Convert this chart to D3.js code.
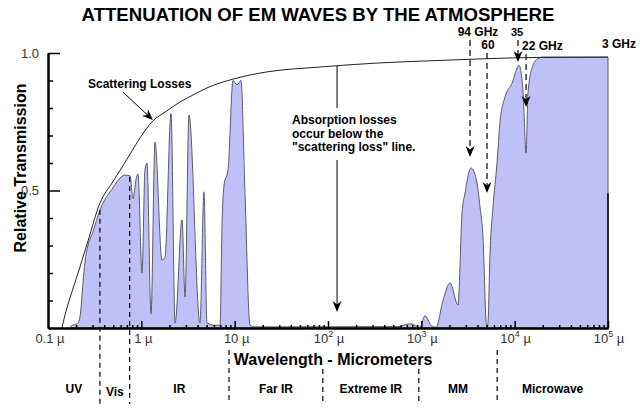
<!DOCTYPE html>
<html>
<head>
<meta charset="utf-8">
<script src="https://cdn.jsdelivr.net/npm/d3@7"></script>
<style>
  html, body { margin: 0; padding: 0; background: #ffffff; }
  svg { display: block; }
</style>
</head>
<body>
<svg id="chart"></svg>
<script>
const WIDTH = 640;
const HEIGHT = 409;
const FONT = '"Liberation Sans", Arial, Helvetica, sans-serif';

// Scattering loss envelope: wavelength (micrometres) vs relative transmission.
const scatterWavelength = [
  0.141, 0.152, 0.172, 0.21, 0.268, 0.361, 0.485, 0.652, 0.794, 0.968, 1.33,
  1.793, 2.6, 3.76, 5.05, 9.6, 22, 82, 361, 1585, 18700, 100000
];
const scatterValue = [
  0, 0.047, 0.109, 0.2, 0.316, 0.455, 0.527, 0.596, 0.644, 0.691, 0.753,
  0.785, 0.822, 0.851, 0.873, 0.905, 0.931, 0.949, 0.964, 0.973, 0.984, 0.985
];

// Atmospheric transmission windows.
const transWavelength = [
  0.172, 0.181, 0.205, 0.22, 0.237, 0.249, 0.268, 0.303, 0.361, 0.485,
  0.668, 0.756, 0.814, 0.877, 0.921, 1.017, 1.094, 1.15, 1.27, 1.401,
  1.665, 1.793, 2.08, 2.3, 2.73, 2.94, 3.24, 4.25, 4.69, 5.05,
  6.15, 6.97, 7.31, 7.69, 8.49, 9.6, 10.6, 11.7, 12.9, 14.6,
  16.5, 591, 669, 775, 899, 968, 1095, 1270, 1436, 1706,
  2028, 2470, 2730, 2938, 3405, 3950, 4252, 4578, 4929, 5056,
  5180, 5440, 5860, 6470, 6970, 7880, 9370, 11140, 12300, 13250,
  13900, 15740, 17800, 20100, 100000
];
const transValue = [
  0, 0.01, 0.015, 0.04, 0.164, 0.24, 0.3, 0.35, 0.43, 0.505,
  0.556, 0.553, 0.47, 0.54, 0.56, 0.2, 0.575, 0.6, 0.05, 0.676,
  0.247, 0.258, 0.78, 0.018, 0.393, 0.113, 0.775, 0.018, 0.495, 0.018,
  0.01, 0.01, 0.367, 0.52, 0.575, 0.9, 0.884, 0.9, 0.49, 0.01,
  0.004, 0.005, 0.012, 0.015, 0.006, 0.003, 0.045, 0.01, 0.003, 0.1,
  0.164, 0.084, 0.418, 0.491, 0.582, 0.527, 0.44, 0.33, 0.03, 0,
  0.02, 0.27, 0.44, 0.6, 0.75, 0.84, 0.89, 0.955, 0.858, 0.636,
  0.858, 0.956, 0.98, 0.985, 0.985
];

const decadeTicks = [0.1, 1, 10, 100, 1000, 10000, 100000];
const decadeBase = ['0.1', '1', '10', '10', '10', '10', '10'];
const decadePower = ['', '', '', '2', '3', '4', '5'];
const yMinorTicks = [0.1, 0.2, 0.3, 0.4, 0.6, 0.7, 0.8, 0.9];
const yMajorTicks = [0.5, 1.0];

// Spectral band boundaries (micrometres) and names.
const bandEdges = [0.36, 0.75, 8.7, 88, 940, 6500];
const bandEdgeFill = [0.43, 0.549, null, null, null, null];
const bandNames = ['UV', 'Vis', 'IR', 'Far IR', 'Extreme IR', 'MM', 'Microwave'];

// Millimetre-wave absorption markers.
const freqLabels = ['94 GHz', '60', '35', '22 GHz'];
const freqWavelength = [3325, 5056, 10860, 13250];
const freqPointsTo = [0.622, 0.491, 0.967, 0.804];

const x = d3.scaleLog().domain([0.1, 100000]).range([48, 608]);
const y = d3.scaleLinear().domain([0, 1]).range([328, 53]);

const root = d3.select('#chart')
  .attr('width', WIDTH)
  .attr('height', HEIGHT)
  .attr('viewBox', `0 0 ${WIDTH} ${HEIGHT}`)
  .style('background', '#ffffff');

function arrowHead(g, tipX, tipY, angle) {
  g.append('path')
    .attr('d', 'M0,0 L-11,-4.5 L-7.5,0 L-11,4.5 Z')
    .attr('transform', `translate(${tipX},${tipY}) rotate(${angle})`)
    .attr('fill', '#000000');
}

function label(g, tx, ty, text, size, anchor) {
  return g.append('text')
    .attr('x', tx)
    .attr('y', ty)
    .attr('text-anchor', anchor || 'start')
    .attr('font-family', FONT)
    .attr('font-size', size)
    .attr('font-weight', 700)
    .attr('fill', '#000000')
    .text(text);
}

// Title
label(root, 318, 21, 'ATTENUATION OF EM WAVES BY THE ATMOSPHERE', 18.6, 'middle');

// Transmission area
const transData = transWavelength.map((w, i) => ({ w, v: transValue[i] }));
const area = d3.area()
  .x((d) => x(d.w))
  .y0(y(0))
  .y1((d) => y(d.v))
  .curve(d3.curveMonotoneX);

root.append('path')
  .datum(transData)
  .attr('d', area)
  .attr('fill', '#c0c0f8')
  .attr('stroke', '#5a5a66')
  .attr('stroke-width', 1);

// Scattering loss envelope
const scatterData = scatterWavelength.map((w, i) => ({ w, v: scatterValue[i] }));
root.append('path')
  .datum(scatterData)
  .attr('d', d3.line().x((d) => x(d.w)).y((d) => y(d.v)).curve(d3.curveMonotoneX))
  .attr('fill', 'none')
  .attr('stroke', '#222222')
  .attr('stroke-width', 1);

// Band boundaries and names
const titleLeft = 233;
const titleRight = 434;
bandEdges.forEach((w, i) => {
  const px = x(w);
  let top = bandEdgeFill[i] !== null ? y(bandEdgeFill[i]) : 350;
  if (bandEdgeFill[i] === null && px > titleLeft && px < titleRight) top = 369;
  root.append('line')
    .attr('x1', px).attr('x2', px)
    .attr('y1', top).attr('y2', 404)
    .attr('stroke', '#000000')
    .attr('stroke-width', 1.2)
    .attr('stroke-dasharray', '5,4');
});

const bandBounds = [0.1].concat(bandEdges, [100000]);
bandNames.forEach((name, i) => {
  const mid = Math.sqrt(bandBounds[i] * bandBounds[i + 1]);
  label(root, x(mid), name === 'Vis' ? 396 : 393, name, 12, 'middle');
});

// Axes
const xMinor = [];
decadeTicks.slice(0, -1).forEach((d) => {
  for (let m = 2; m <= 9; m += 1) xMinor.push(d * m);
});

const xAxisG = root.append('g').attr('transform', `translate(0,${y(0)})`);
xAxisG.call(d3.axisBottom(x).tickValues(xMinor).tickSizeInner(-3).tickSizeOuter(0).tickFormat(''));
xAxisG.append('g').call(d3.axisBottom(x).tickValues(decadeTicks.slice(1)).tickSizeInner(-7).tickSizeOuter(0).tickFormat(''));
xAxisG.selectAll('.domain').attr('stroke', '#000000').attr('stroke-width', 2);
xAxisG.selectAll('.tick line').attr('stroke', '#000000').attr('stroke-width', 1.5);

decadeTicks.forEach((d, i) => {
  const t = root.append('text')
    .attr('x', x(d) + (decadePower[i] ? 1 : 2))
    .attr('y', 343)
    .attr('text-anchor', 'middle')
    .attr('font-family', FONT)
    .attr('font-size', 13)
    .attr('fill', '#333333');
  t.append('tspan').text(decadeBase[i]);
  if (decadePower[i]) {
    t.append('tspan').attr('font-size', 9).attr('dy', -6).text(decadePower[i]);
    t.append('tspan').attr('dy', 6).text(' µ');
  } else {
    t.append('tspan').text(' µ');
  }
});

const yAxisG = root.append('g').attr('transform', `translate(${x(0.1)},0)`);
yAxisG.call(d3.axisLeft(y).tickValues(yMinorTicks).tickSizeInner(-5).tickSizeOuter(0).tickFormat(''));
yAxisG.append('g').call(d3.axisLeft(y).tickValues(yMajorTicks).tickSizeInner(-12).tickSizeOuter(0).tickPadding(9).tickFormat(d3.format('.1f')));
yAxisG.selectAll('.domain').attr('stroke', '#000000').attr('stroke-width', 2);
yAxisG.selectAll('.tick line').attr('stroke', '#000000').attr('stroke-width', 1.5);
yAxisG.selectAll('.tick text')
  .attr('font-family', FONT)
  .attr('font-size', 13)
  .attr('fill', '#333333');

root.append('line')
  .attr('x1', x(100000)).attr('x2', x(100000))
  .attr('y1', y(0.49)).attr('y2', y(0))
  .attr('stroke', '#000000')
  .attr('stroke-width', 1.5);

// Axis titles
label(root, 0, 0, 'Relative Transmission', 16, 'middle')
  .attr('transform', 'translate(26,168) rotate(-90)');
label(root, 333, 365, 'Wavelength - Micrometers', 16, 'middle');

// Scattering losses annotation
label(root, 88, 88, 'Scattering Losses', 12, 'start');
const sFrom = [x(0.636), y(0.858)];
const sTo = [x(1.33), y(0.756)];
const sAngle = Math.atan2(sTo[1] - sFrom[1], sTo[0] - sFrom[0]) * 180 / Math.PI;
root.append('line')
  .attr('x1', sFrom[0]).attr('y1', sFrom[1])
  .attr('x2', sTo[0] - 6 * Math.cos(sAngle * Math.PI / 180))
  .attr('y2', sTo[1] - 6 * Math.sin(sAngle * Math.PI / 180))
  .attr('stroke', '#000000')
  .attr('stroke-width', 1);
arrowHead(root, sTo[0], sTo[1], sAngle);

// Absorption annotation
const absX = x(125);
root.append('line')
  .attr('x1', absX).attr('x2', absX)
  .attr('y1', y(0.953)).attr('y2', y(0.8))
  .attr('stroke', '#000000').attr('stroke-width', 1);
root.append('line')
  .attr('x1', absX).attr('x2', absX)
  .attr('y1', y(0.611)).attr('y2', y(0.058) - 6)
  .attr('stroke', '#000000').attr('stroke-width', 1);
arrowHead(root, absX, y(0.058), 90);
['Absorption losses', 'occur below the', '"scattering loss" line.'].forEach((line, i) => {
  label(root, 292, 124 + i * 13.5, line, 12, 'start');
});

// Frequency markers
const markerLayout = [
  { base: 36, dx: 8, anchor: 'middle', size: 12 },
  { base: 49, dx: 1, anchor: 'middle', size: 12 },
  { base: 36, dx: -1, anchor: 'middle', size: 11 },
  { base: 50, dx: -4, anchor: 'start', size: 12 }
];
freqLabels.forEach((name, i) => {
  const px = x(freqWavelength[i]);
  const tip = y(freqPointsTo[i]);
  const lay = markerLayout[i];
  label(root, px + lay.dx, lay.base, name, lay.size, lay.anchor);
  root.append('line')
    .attr('x1', px).attr('x2', px)
    .attr('y1', lay.base + 4).attr('y2', tip - 6)
    .attr('stroke', '#000000')
    .attr('stroke-width', 1.2)
    .attr('stroke-dasharray', '6,4');
  arrowHead(root, px, tip, 90);
});
label(root, x(100000) - 6, 48, '3 GHz', 12, 'start');
</script>
</body>
</html>
